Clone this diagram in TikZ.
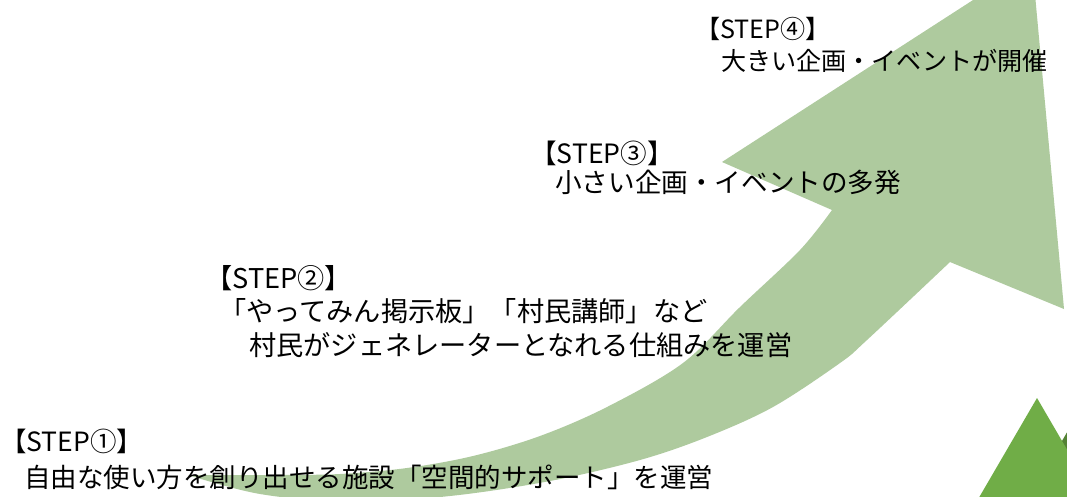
\documentclass[tikz,border=0pt]{standalone}
\usepackage{fontspec}
\newfontfamily\jpfont{Noto Sans CJK JP}
\definecolor{arrowgreen}{RGB}{174,202,158}
\definecolor{mtlight}{RGB}{112,173,71}
\definecolor{mtdark}{RGB}{84,130,53}
\begin{document}
\begin{tikzpicture}[x=1pt,y=-1pt,
  steptext/.style={font=\jpfont\fontsize{#1}{#1}\selectfont, anchor=base west, inner sep=0pt, text=black}]
\useasboundingbox (0,0) rectangle (1067,496);
\clip (0,0) rectangle (1067,496);
\fill[white] (0,0) rectangle (1067,496);
% big curved arrow
\fill[arrowgreen]
  plot[smooth, tension=0.55] coordinates {(188,475) (273,475) (340,474) (407,468) (473,456) (540,436) (607,407) (683,363) (740,307) (800,250) (832,210)}
  -- (722,162) -- (1032,-38) -- (1064,309) -- (950,262)
  -- plot[smooth, tension=0.55] coordinates {(950,262) (867,340) (840,363) (773,407) (707,437) (640,460) (550,481) (450,496) (350,502) (260,494) (188,475)}
  -- cycle;
% mountains
\fill[mtdark] (1080,410) -- (1140,513) -- (1020,513) -- cycle;
\fill[mtlight] (1037,398) -- (1097,501) -- (977,501) -- cycle;
% texts
\node[steptext=25.1] (s4a) at (695,38) {【STEP④】};
\node[steptext=25.1] (s4b) at (721,70) {大きい企画・イベントが開催};
\node[steptext=26.6] (s3a) at (530,163) {【STEP③】};
\node[steptext=26.6] (s3b) at (555,192) {小さい企画・イベントの多発};
\node[steptext=27.2] (s2a) at (205,288) {【STEP②】};
\node[steptext=27.2] (s2b) at (219,321) {「やってみん掲示板」「村民講師」など};
\node[steptext=27.2] (s2c) at (249,355) {村民がジェネレーターとなれる仕組みを運営};
\node[steptext=26.5] (s1a) at (0,451) {【STEP①】};
\node[steptext=26.5] (s1b) at (24,487) {自由な使い方を創り出せる施設「空間的サポート」を運営};
\end{tikzpicture}
\end{document}
